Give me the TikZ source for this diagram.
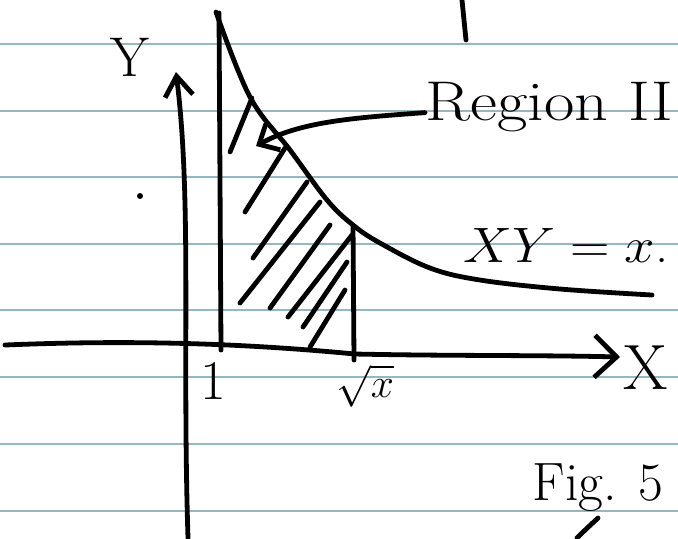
\documentclass[tikz,border=0pt]{standalone}
\usepackage{fontspec}
\usetikzlibrary{arrows.meta}

\definecolor{ruleblue}{RGB}{150,182,192}
\tikzset{
  pen/.style={line width=2.4pt,line cap=round,line join=round},
  ruling/.style={draw=ruleblue,line width=1pt},
  xaxis/.style={pen,-{Straight Barb[length=11pt,width=21pt]}},
  yaxis/.style={pen,-{Straight Barb[length=10pt,width=14pt]}},
  leader/.style={pen,-{Straight Barb[length=8pt,width=15pt]}},
  hand/.style={inner sep=0pt,font=\fontsize{28}{32}\selectfont},
}

\begin{document}
\begin{tikzpicture}[x=0.5pt,y=-0.5pt]
\useasboundingbox (0,0) rectangle (678,538);
\fill[white] (0,0) rectangle (678,538);
\foreach \r in {44,111,177,244,310,377,444,511}
  \draw[ruling] (0,\r) -- (678,\r);

% axes
\coordinate (xl) at (5,345);
\coordinate (xm) at (355,354);
\coordinate (xr) at (620,357);
\coordinate (ybot) at (188,538);
\coordinate (ytop) at (176,72);
\draw[xaxis] (xl) .. controls (150,339) and (260,345) .. (xm) .. controls (450,356) and (540,355) .. (xr);
\draw[yaxis] (ybot) .. controls (182,350) and (192,200) .. (ytop);

% curve XY = x
\draw[pen] plot[smooth,tension=0.6] coordinates {(216,12) (250,97) (290,150) (327,200) (353,225) (380,243) (430,268) (480,280) (560,289) (652,295)};

% bounds of the region
\coordinate (a1) at (219,13);
\coordinate (a0) at (221,350);
\coordinate (b1) at (353,225);
\coordinate (b0) at (354,360);
\draw[pen] (a1) -- (a0);
\draw[pen] (b1) -- (b0);

% hatching
\foreach \ax/\ay/\bx/\by in {230/152/252/98, 245/212/285/148, 253/258/307/182, 240/303/320/202,
  270/308/330/225, 288/317/352/235, 303/327/347/262, 310/347/345/290}
  \draw[pen] (\ax,\ay) -- (\bx,\by);

% labels
\node[hand] (ylab) at (130,57) {Y};
\node[hand,font=\fontsize{32}{36}\selectfont] (xlab) at (646,368) {X};
\node[hand] (one) at (213,381) {1};
\node[hand,font=\fontsize{20}{24}\selectfont] (rootx) at (365,386) {$\sqrt{x}$};
\node[hand,anchor=base west,xscale=1.18,font=\fontsize{28}{32}\selectfont] (region) at (425,120) {Region II};
\node[hand,xscale=1.1,font=\fontsize{24}{28}\selectfont] (curvelab) at (566,245) {$XY=x$.};
\node[hand,font=\fontsize{27}{32}\selectfont] (figlab) at (598,488) {Fig. 5};

\coordinate (rtip) at (256,146);
\draw[leader] ([yshift=-3pt]region.west) .. controls (350,118) and (300,122) .. (rtip);

% stray pen marks
\draw[pen] (462,0) -- (466,40);
\fill (140,196) circle (1.5pt);
\draw[pen] (577,538) .. controls (585,530) .. (598,518);
\end{tikzpicture}
\end{document}
